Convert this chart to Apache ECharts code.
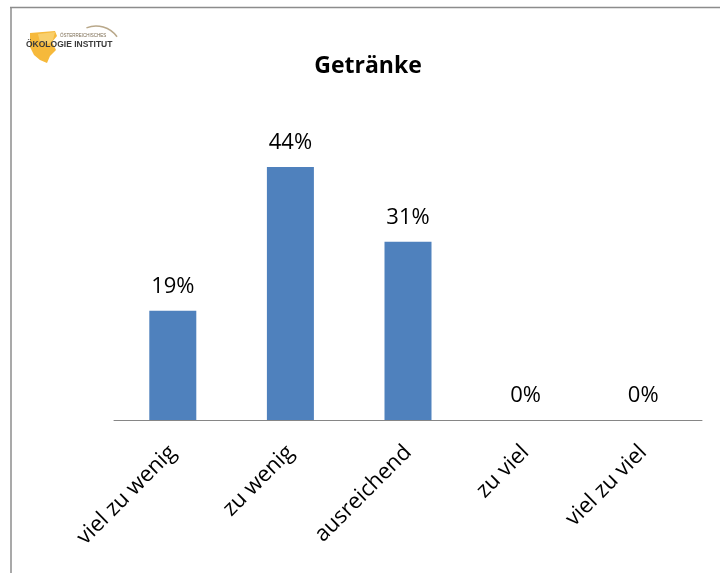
<!DOCTYPE html>
<html>
<head>
<meta charset="utf-8">
<style>
  html, body { margin: 0; padding: 0; background: #ffffff; }
  #chart { width: 720px; height: 573px; }
</style>
<script src="https://cdn.jsdelivr.net/npm/echarts@6/dist/echarts.min.js"></script>
</head>
<body>
<div id="chart"></div>
<script>
const categories = ['viel zu wenig', 'zu wenig', 'ausreichend', 'zu viel', 'viel zu viel'];
const values = [19, 44, 31, 0, 0];
const titleText = 'Getränke';

const chart = echarts.init(document.getElementById('chart'));
chart.setOption({
  backgroundColor: '#ffffff',
  animation: false,
  title: {
    text: titleText,
    left: 363,
    top: 50,
    textAlign: 'center',
    textStyle: { fontFamily: 'Open Sans', fontWeight: 'bold', fontSize: 23, color: '#000000' }
  },
  grid: { left: 114, right: 18, top: 132.5, bottom: 153, containLabel: false },
  xAxis: {
    type: 'category',
    data: categories,
    axisLine: { lineStyle: { color: '#868686', width: 1 } },
    axisTick: { show: false },
    axisLabel: {
      rotate: 45,
      interval: 0,
      margin: 29,
      fontFamily: 'Open Sans',
      fontSize: 22,
      color: '#000000'
    }
  },
  yAxis: {
    type: 'value',
    min: 0,
    max: 50,
    show: false,
    splitLine: { show: false }
  },
  series: [{
    type: 'bar',
    data: values,
    barWidth: 47,
    itemStyle: { color: '#4f81bd' },
    label: {
      show: true,
      position: 'top',
      distance: 13,
      formatter: '{c}%',
      fontFamily: 'Open Sans',
      fontSize: 22,
      color: '#000000'
    }
  }],
  graphic: [
    { type: 'line', shape: { x1: 10, y1: 7.5, x2: 720, y2: 7.5 }, style: { stroke: '#8c8c8c', lineWidth: 1.5 } },
    { type: 'line', shape: { x1: 11, y1: 7, x2: 11, y2: 573 }, style: { stroke: '#8c8c8c', lineWidth: 1.5 } },
    { type: 'polygon', shape: { points: [[30,33],[55,31],[57,36],[52,42],[56,50],[50,56],[47,63],[40,60],[34,55],[30,47]] }, style: { fill: '#f6b93b' } },
    { type: 'polygon', shape: { points: [[38,34],[55,32],[53,40],[48,44],[40,42]] }, style: { fill: '#f9cf6b' } },
    { type: 'arc', shape: { cx: 96, cy: 52, r: 26, startAngle: -Math.PI * 0.62, endAngle: -Math.PI * 0.2 }, style: { stroke: '#b9a88a', lineWidth: 1.5, fill: 'none' } },
    { type: 'text', style: { x: 60, y: 36, text: 'ÖSTERREICHISCHES', fontSize: 4.5, fontFamily: 'Liberation Sans', fill: '#7a6a50', textVerticalAlign: 'middle' } },
    { type: 'text', style: { x: 26, y: 45, text: 'ÖKOLOGIE INSTITUT', fontSize: 8.5, fontWeight: 'bold', fontFamily: 'Liberation Sans', fill: '#3a3a3a', textVerticalAlign: 'middle' } }
  ]
});
</script>
</body>
</html>
